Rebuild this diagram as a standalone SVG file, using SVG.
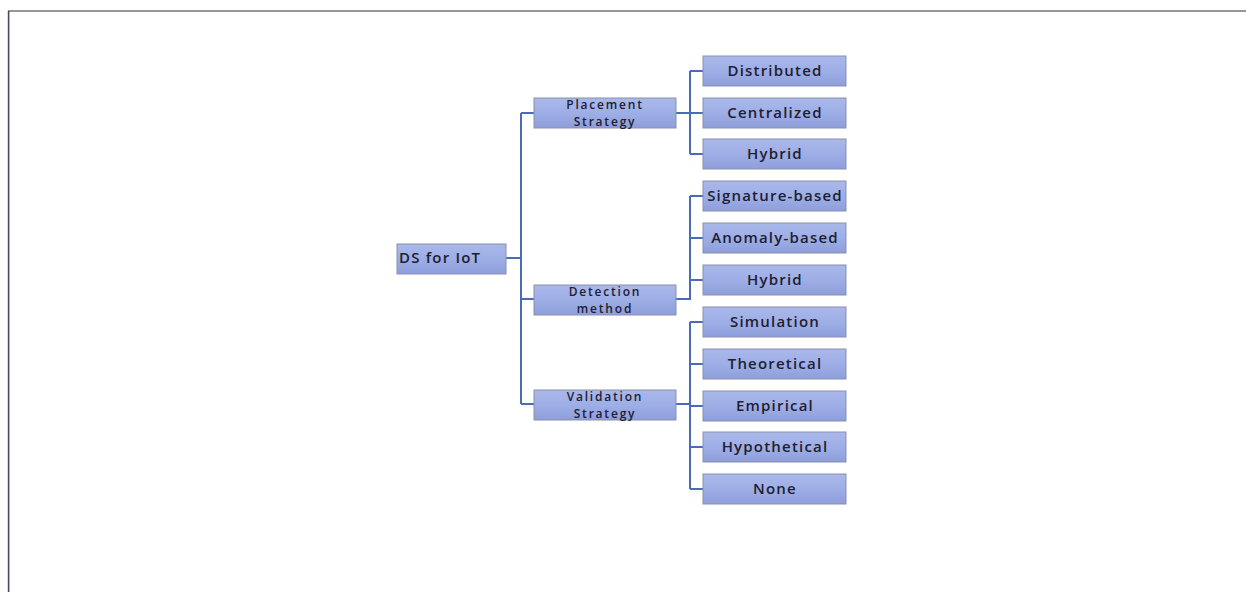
<svg xmlns="http://www.w3.org/2000/svg" width="1246" height="592" viewBox="0 0 1246 592">
<defs>
<linearGradient id="boxg" x1="0" y1="0" x2="0" y2="1">
<stop offset="0" stop-color="#aab8ea"/>
<stop offset="0.5" stop-color="#9eaee6"/>
<stop offset="1" stop-color="#8d9edb"/>
</linearGradient>
</defs>
<style>
.box{fill:url(#boxg);stroke:#8a90aa;stroke-width:1}
.t{font-family:"Open Sans","Liberation Sans",sans-serif;font-weight:600;font-size:15px;letter-spacing:1.2px;fill:#1e2030;text-anchor:middle}
.t2{font-size:12px;letter-spacing:1.8px}
.conn{fill:none;stroke:#4a6cb8;stroke-width:2}
</style>
<rect width="1246" height="592" fill="#ffffff"/>
<g id="frame">
<line x1="8" y1="11" x2="1246" y2="11" stroke="#757080" stroke-width="1.6"/>
<line x1="8.6" y1="11" x2="8.6" y2="592" stroke="#4a4560" stroke-width="1.6"/>
</g>
<g id="connectors">
<path class="conn" d="M506 258 H521 M521 113 V404 M521 113 H534 M521 299 H534 M521 404 H534"/>
<path class="conn" d="M676 113 H690 M690 71 V154 M690 71 H703 M690 113 H703 M690 154 H703"/>
<path class="conn" d="M676 299 H690 V196 M690 196 H703 M690 238 H703 M690 280 H703"/>
<path class="conn" d="M676 404 H690 M690 322 V489 M690 322 H703 M690 364 H703 M690 406 H703 M690 447 H703 M690 489 H703"/>
</g>
<g id="root"><rect class="box" x="397" y="244" width="109" height="30"/><text class="t" x="399" y="263" style="text-anchor:start">DS for IoT</text></g>
<g id="placement"><rect class="box" x="534" y="98" width="142" height="30"/><text class="t t2" x="605" y="109">Placement</text><text class="t t2" x="605" y="125.5">Strategy</text></g>
<g id="detection"><rect class="box" x="534" y="285" width="142" height="30"/><text class="t t2" x="605" y="296">Detection</text><text class="t t2" x="605" y="312.5">method</text></g>
<g id="validation"><rect class="box" x="534" y="390" width="142" height="30"/><text class="t t2" x="605" y="401">Validation</text><text class="t t2" x="605" y="417.5">Strategy</text></g>
<g id="distributed"><rect class="box" x="703" y="56" width="143" height="30"/><text class="t" x="775" y="76">Distributed</text></g>
<g id="centralized"><rect class="box" x="703" y="98" width="143" height="30"/><text class="t" x="775" y="118">Centralized</text></g>
<g id="hybrid1"><rect class="box" x="703" y="139" width="143" height="30"/><text class="t" x="775" y="159">Hybrid</text></g>
<g id="signature"><rect class="box" x="703" y="181" width="143" height="30"/><text class="t" x="775" y="201">Signature-based</text></g>
<g id="anomaly"><rect class="box" x="703" y="223" width="143" height="30"/><text class="t" x="775" y="243">Anomaly-based</text></g>
<g id="hybrid2"><rect class="box" x="703" y="265" width="143" height="30"/><text class="t" x="775" y="285">Hybrid</text></g>
<g id="simulation"><rect class="box" x="703" y="307" width="143" height="30"/><text class="t" x="775" y="327">Simulation</text></g>
<g id="theoretical"><rect class="box" x="703" y="349" width="143" height="30"/><text class="t" x="775" y="369">Theoretical</text></g>
<g id="empirical"><rect class="box" x="703" y="391" width="143" height="30"/><text class="t" x="775" y="411">Empirical</text></g>
<g id="hypothetical"><rect class="box" x="703" y="432" width="143" height="30"/><text class="t" x="775" y="452">Hypothetical</text></g>
<g id="none"><rect class="box" x="703" y="474" width="143" height="30"/><text class="t" x="775" y="494">None</text></g>
</svg>
